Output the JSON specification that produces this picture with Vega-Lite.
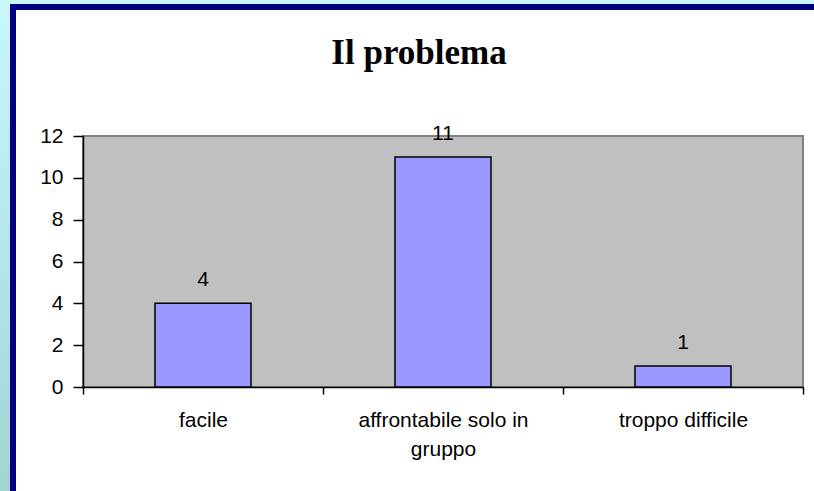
{
  "$schema": "https://vega.github.io/schema/vega-lite/v6.json",
  "padding": 0,
  "background": "white",
  "spacing": 0,
  "config": {
    "view": {"stroke": null},
    "concat": {"spacing": 0}
  },
  "hconcat": [
    {
      "width": 10,
      "height": 491,
      "data": {"values": []},
      "mark": "point",
      "view": {"fill": {"gradient": "linear", "x1": 0, "y1": 0, "x2": 0, "y2": 1, "stops": [{"offset": 0, "color": "#C8F8FC"}, {"offset": 1, "color": "#A2D4D4"}]}, "stroke": null}
    },
    {
      "spacing": 0,
      "vconcat": [
        {
          "width": 804,
          "height": 4,
          "data": {"values": []},
          "mark": "point",
          "view": {"fill": "#C4F8FC", "stroke": null}
        },
        {
          "width": 804,
          "height": 6,
          "data": {"values": []},
          "mark": "point",
          "view": {"fill": "#000080", "stroke": null}
        },
        {
          "spacing": 22,
          "hconcat": [
            {
              "width": 6,
              "height": 481,
              "data": {"values": []},
              "mark": "point",
              "view": {"fill": "#000080", "stroke": null}
            },
            {
              "spacing": 0,
              "vconcat": [
                {
                  "width": 1,
                  "height": 24,
                  "data": {"values": []},
                  "mark": "point",
                  "view": {"stroke": null}
                },
                {
                  "width": 720,
                  "height": 251,
                  "view": {"fill": "#C0C0C0", "stroke": "#808080", "strokeWidth": 2},
                  "title": {
                    "text": "Il problema",
                    "font": "Liberation Serif",
                    "fontSize": 35,
                    "fontWeight": "bold",
                    "color": "black",
                    "anchor": "middle",
                    "dx": -24,
                    "offset": 52
                  },
                  "data": {
                    "values": [
                      {"categoria": "facile", "valore": 4},
                      {"categoria": "affrontabile solo in|gruppo", "valore": 11},
                      {"categoria": "troppo difficile", "valore": 1}
                    ]
                  },
                  "encoding": {
                    "x": {
                      "field": "categoria",
                      "type": "nominal",
                      "sort": null,
                      "scale": {"paddingInner": 0, "paddingOuter": 0},
                      "axis": {
                        "title": null,
                        "labelAngle": 0,
                        "labelFont": "Liberation Sans",
                        "labelFontSize": 21,
                        "labelColor": "black",
                        "labelExpr": "split(datum.label, '|')",
                        "labelLineHeight": 29,
                        "labelPadding": 15,
                        "labelBaseline": "top",
                        "tickBand": "extent",
                        "tickSize": 7,
                        "tickColor": "black",
                        "tickWidth": 1.5,
                        "domainColor": "black",
                        "domainWidth": 1.5
                      }
                    },
                    "y": {
                      "field": "valore",
                      "type": "quantitative",
                      "scale": {"domain": [0, 12]},
                      "axis": {
                        "title": null,
                        "values": [0, 2, 4, 6, 8, 10, 12],
                        "grid": false,
                        "labelFont": "Liberation Sans",
                        "labelFontSize": 21,
                        "labelColor": "black",
                        "labelPadding": 10,
                        "tickSize": 10,
                        "tickColor": "black",
                        "tickWidth": 1.5,
                        "domainColor": "black",
                        "domainWidth": 1.5
                      }
                    }
                  },
                  "layer": [
                    {
                      "mark": {"type": "bar", "width": {"band": 0.4}, "fill": "#9999FF", "stroke": "black", "strokeWidth": 1.5}
                    },
                    {
                      "mark": {"type": "text", "font": "Liberation Sans", "fontSize": 21, "color": "black", "baseline": "alphabetic", "dy": -17},
                      "encoding": {"text": {"field": "valore", "type": "quantitative"}}
                    }
                  ]
                }
              ]
            }
          ]
        }
      ]
    }
  ]
}
